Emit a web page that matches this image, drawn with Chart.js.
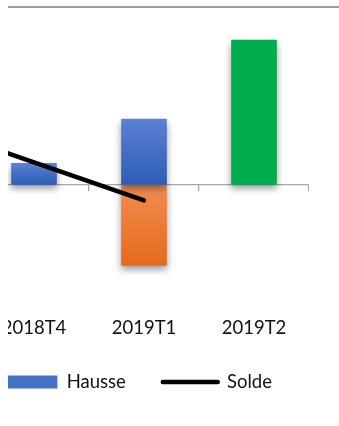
<!DOCTYPE html>
<html>
<head>
<meta charset="utf-8">
<script src="https://cdn.jsdelivr.net/npm/chart.js@4.4.0/dist/chart.umd.min.js"></script>
<style>
  html, body { margin: 0; padding: 0; background: #fff; }
  body { width: 339px; height: 426px; position: relative; overflow: hidden; }
  /* the picture is a crop: everything left of x=8 is cut away */
  #cadre { position: absolute; left: 8px; top: 0; width: 331px; height: 426px; overflow: hidden; }
  #filet { position: absolute; left: 0; right: 0; top: 6px; border-top: 2px solid #9c9c9c; }
  #zone { position: absolute; left: -139px; top: 0; width: 440px; height: 402px; }
</style>
</head>
<body>
<div id="cadre">
  <div id="filet"></div>
  <div id="zone"><canvas id="graphique"></canvas></div>
</div>
<script>
// Données
const trimestres = ['2018T3', '2018T4', '2019T1', '2019T2'];
const hausse     = [null, 2.1, 6.5, null];
const baisse     = [null, null, -8.1, null];
const prevision  = [null, null, null, 14.4];
const solde      = [6.0, 2.2, -1.6, null];

Chart.defaults.font.family = 'Lato';

// Dégradé vertical propre à chaque barre (clair en haut, foncé en bas)
function degrade(haut, bas, uni) {
    return (context) => {
        const chart = context.chart;
        const y = chart.scales.y;
        const v = context.parsed ? context.parsed.y : null;
        if (context.type !== 'data' || !y || v == null) return uni;
        const p0 = y.getPixelForValue(0);
        const p1 = y.getPixelForValue(v);
        if (!isFinite(p0) || !isFinite(p1) || p0 === p1) return uni;
        const g = chart.ctx.createLinearGradient(0, Math.min(p0, p1), 0, Math.max(p0, p1));
        g.addColorStop(0, haut);
        g.addColorStop(1, bas);
        return g;
    };
}

// Ombre portée sous les barres (pas sous la courbe)
const ombre = {
    id: 'ombre',
    beforeDatasetDraw(chart, args) {
        if (args.meta.type !== 'bar') return;
        const ctx = chart.ctx;
        ctx.save();
        ctx.shadowColor = 'rgba(0, 0, 0, 0.4)';
        ctx.shadowBlur = 7;
        ctx.shadowOffsetY = 4;
    },
    afterDatasetDraw(chart, args) {
        if (args.meta.type === 'bar') chart.ctx.restore();
    }
};

const barres = { type: 'bar', xAxisID: 'x', yAxisID: 'y', barThickness: 45, grouped: false,
                 borderWidth: 0, pointStyle: 'rect', order: 1 };

new Chart(document.getElementById('graphique'), {
    type: 'bar',
    data: {
        labels: trimestres,
        datasets: [
            { ...barres, label: 'Hausse', data: hausse,
              backgroundColor: degrade('#5b82d2', '#2d5cb8', '#4571c6') },
            { ...barres, label: 'Baisse', data: baisse,
              backgroundColor: degrade('#f08d52', '#e66a1a', '#ee7d34') },
            { ...barres, label: 'Prévision', data: prevision,
              backgroundColor: '#00ad4e' },
            { type: 'line', label: 'Solde', data: solde, xAxisID: 'x', yAxisID: 'y',
              borderColor: '#000', backgroundColor: '#000', borderWidth: 4.5,
              borderCapStyle: 'round', tension: 0, pointRadius: 0, pointHoverRadius: 0,
              pointStyle: 'line', order: 0 }
        ]
    },
    options: {
        responsive: true,
        maintainAspectRatio: false,
        animation: false,
        layout: { padding: { top: 7, right: 0, bottom: 0.75, left: 0 } },
        scales: {
            x: {
                type: 'category',
                offset: true,
                grid: { display: false, drawTicks: false },
                border: { display: false },
                ticks: { color: '#111', padding: 0, maxRotation: 0, autoSkip: false,
                         font: { size: 18.5, lineHeight: 0.85 } }
            },
            // axe du zéro avec ses graduations entre trimestres
            x0: {
                type: 'category',
                axis: 'x',
                position: { y: 0 },
                offset: true,
                grid: { offset: true, drawOnChartArea: false, drawTicks: true, tickLength: 6,
                        color: '#a6a6a6', lineWidth: 1.3 },
                border: { color: '#a6a6a6', width: 1.3 },
                ticks: { display: false }
            },
            y: { display: false, min: -13.55, max: 17.7 }
        },
        plugins: {
            legend: {
                position: 'bottom',
                align: 'end',
                labels: {
                    usePointStyle: true,
                    pointStyleWidth: 55,
                    boxHeight: 13,
                    padding: 37,
                    color: '#111',
                    font: { size: 18.5 },
                    filter: (item) => item.text === 'Hausse' || item.text === 'Solde',
                    sort: (a, b) => a.datasetIndex - b.datasetIndex,
                    generateLabels: (chart) => {
                        const items = Chart.defaults.plugins.legend.labels.generateLabels(chart);
                        items.forEach(it => { if (it.pointStyle === 'line') it.lineCap = 'round'; });
                        return items;
                    }
                }
            },
            tooltip: { enabled: false }
        }
    },
    plugins: [ombre]
});
</script>
</body>
</html>
